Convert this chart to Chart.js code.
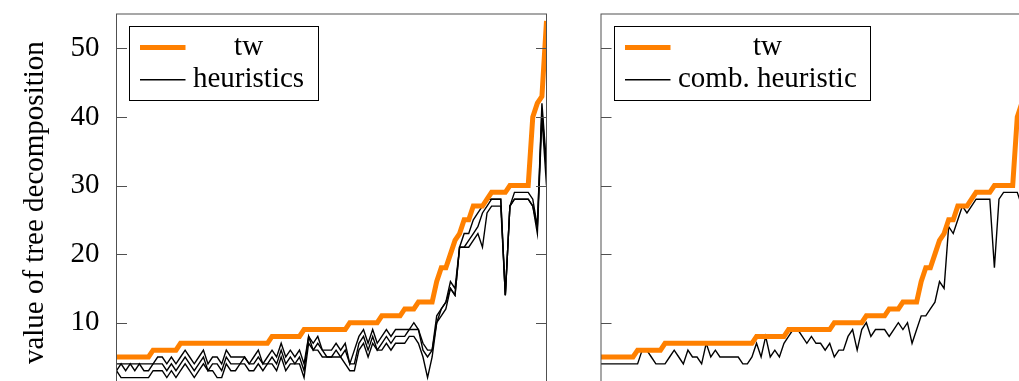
<!DOCTYPE html>
<html>
<head>
<meta charset="utf-8">
<script src="https://cdn.jsdelivr.net/npm/chart.js@4.4.1/dist/chart.umd.min.js"></script>
<style>
  html, body { margin: 0; padding: 0; width: 1019px; height: 381px; overflow: hidden; background: #fff; }
  canvas { position: absolute; top: 0; }
  #twHeur { left: 0; }
  #twComb { left: 590px; }
</style>
</head>
<body>
<canvas id="twHeur" width="560" height="400"></canvas>
<canvas id="twComb" width="460" height="400"></canvas>
<script>
// instances, sorted by treewidth
const instances = Array.from({ length: 95 }, (_, i) => i + 1);

const yTickValues = [10, 20, 30, 40, 50];

const tw = [
  5, 5, 5, 5, 5, 5, 5, 5,
  6, 6, 6, 6, 6, 6,
  7, 7, 7, 7, 7, 7, 7, 7, 7, 7, 7, 7, 7, 7, 7, 7, 7, 7, 7, 7,
  8, 8, 8, 8, 8, 8, 8,
  9, 9, 9, 9, 9, 9, 9, 9, 9, 9,
  10, 10, 10, 10, 10, 10, 10,
  11, 11, 11, 11, 11,
  12, 12, 12,
  13, 13, 13, 13,
  16, 18, 18, 20, 22, 23, 25, 25, 27, 27, 27, 28, 29, 29, 29, 29, 30, 30, 30, 30, 30, 40, 42, 43, 54
];

const heuristicA = [
  4, 4, 4, 4, 4, 4, 4, 4,
  4, 5, 5, 4, 5, 4, 5, 6, 5, 4, 5, 6, 4,
  5, 5, 4, 6, 5, 5, 5, 5, 4, 5,
  6, 4, 5, 6, 5, 7, 5, 6, 5, 6, 4,
  8, 7, 8, 6, 6, 6, 7, 6, 7, 4, 6,
  8, 9, 7, 9, 7, 8, 9, 8, 9,
  9, 9, 9, 10, 9, 7, 6, 6,
  11, 12, 13, 16, 15, 21, 23, 23, 25, 26,
  27, 28, 28, 28, 28, 14, 27, 29, 29, 29, 29, 28, 24, 42, 33
];

const heuristicB = [
  3, 4, 3, 4, 3, 4, 3, 3,
  4, 4, 4, 3, 4, 3, 4, 5, 4, 3, 4, 5, 3,
  4, 4, 3, 5, 4, 4, 4, 5, 4, 4,
  5, 4, 4, 5, 4, 6, 4, 5, 4, 5, 3,
  8, 6, 7, 6, 5, 5, 6, 5, 6, 4, 4,
  7, 8, 6, 8, 6, 7, 8, 7, 8,
  8, 8, 9, 9, 9, 6, 5, 6,
  10, 12, 13, 15, 14, 21, 21, 22, 23, 24,
  26, 27, 28, 28, 28, 14, 27, 28, 28, 28, 28, 27, 24, 41, 32
];

const heuristicC = [
  3, 2, 2, 2, 2, 2, 2, 2,
  3, 3, 3, 2, 3, 2, 3, 4, 3, 2, 3, 4, 3,
  3, 2, 2, 4, 3, 3, 4, 4, 3, 3,
  4, 3, 4, 4, 3, 5, 3, 4, 4, 4, 2,
  7, 6, 6, 5, 5, 5, 5, 5, 4, 3, 3,
  6, 7, 5, 7, 6, 6, 7, 6, 7,
  7, 7, 8, 8, 7, 5, 2, 5,
  10, 11, 12, 15, 14, 21, 21, 21, 22, 23,
  21, 26, 27, 27, 27, 14, 27, 28, 28, 28, 28, 27, 23, 40, 30
];

const combHeuristic = [
  4, 4, 4, 4, 4, 4, 4, 4, 4,
  6, 6, 5, 4, 4, 4, 5, 6, 5, 4, 6, 5,
  5, 4, 7, 5, 6, 5, 5, 5, 5, 5,
  4, 4, 5, 7, 5, 8, 5, 6, 5, 7,
  8, 9, 9, 8, 7, 8, 7, 7, 6, 7,
  5, 6, 6, 8, 9, 6, 9, 10, 8, 9,
  9, 9, 8, 9, 10, 9, 10, 7, 9, 11,
  11, 12, 13, 16, 15, 24, 23, 25, 27, 26,
  27, 28, 28, 28, 28, 18, 28, 29, 29, 29,
  29, 27, 24, 42, 33
];

const ORANGE = '#ff8000';
const SERIF = "'Liberation Serif', 'DejaVu Serif', serif";
const FONT_SIZE = 29;
const TICK_LEN = 10.5;

// axis box with inward ticks on both sides (pgfplots style)
const framePlugin = {
  id: 'frame',
  afterDatasetsDraw(chart) {
    const { ctx, chartArea: a, scales: { y } } = chart;
    ctx.save();
    ctx.strokeStyle = '#505050';
    ctx.lineWidth = 1;
    ctx.strokeRect(a.left, a.top, a.right - a.left, a.bottom - a.top);
    yTickValues.forEach(v => {
      const py = Math.round(y.getPixelForValue(v)) + 0.5;
      ctx.beginPath();
      ctx.moveTo(a.left, py); ctx.lineTo(a.left + TICK_LEN, py);
      ctx.moveTo(a.right, py); ctx.lineTo(a.right - TICK_LEN, py);
      ctx.stroke();
    });
    ctx.restore();
  }
};

// boxed legend in the upper left corner of the plot
const legendPlugin = {
  id: 'boxLegend',
  afterDraw(chart) {
    const { ctx, chartArea: a } = chart;
    const seen = new Set();
    const items = [];
    chart.data.datasets.forEach(ds => {
      if (!seen.has(ds.label)) { seen.add(ds.label); items.push(ds); }
    });
    ctx.save();
    ctx.font = FONT_SIZE + 'px ' + SERIF;
    const textW = Math.max(...items.map(d => ctx.measureText(d.label).width));
    const x0 = Math.round(a.left + 12.5) + 0.5;
    const y0 = Math.round(a.top + 11.5) + 0.5;
    const w = Math.round(63.5 + textW + 14);
    const h = 74;
    ctx.fillStyle = '#fff';
    ctx.fillRect(x0, y0, w, h);
    ctx.strokeStyle = '#000';
    ctx.lineWidth = 1;
    ctx.strokeRect(x0, y0, w, h);
    items.forEach((d, i) => {
      const cy = y0 + 21 + i * 32.3;
      ctx.strokeStyle = d.borderColor;
      ctx.lineWidth = d.borderWidth;
      ctx.beginPath();
      ctx.moveTo(x0 + 10.5, cy);
      ctx.lineTo(x0 + 56, cy);
      ctx.stroke();
      ctx.fillStyle = '#000';
      ctx.textAlign = 'center';
      ctx.textBaseline = 'alphabetic';
      ctx.fillText(d.label, x0 + 63.5 + textW / 2, cy + 7);
    });
    ctx.restore();
  }
};

function lineSet(label, data, color, width) {
  return {
    label, data,
    borderColor: color,
    backgroundColor: color,
    borderWidth: width,
    pointRadius: 0,
    tension: 0,
    borderJoinStyle: 'miter',
    fill: false,
    clip: 0
  };
}

function makeOptions(withLabels, padding) {
  return {
    responsive: false,
    animation: false,
    devicePixelRatio: 1,
    layout: { padding },
    plugins: { legend: { display: false }, tooltip: { enabled: false } },
    scales: {
      x: { display: false, offset: false },
      y: {
        display: withLabels,
        min: 0, max: 55,
        afterBuildTicks(scale) { scale.ticks = yTickValues.map(v => ({ value: v })); },
        afterFit(scale) {
          scale.width = withLabels ? 116.5 : 0;
          scale.paddingTop = 0;
          scale.paddingBottom = 0;
        },
        grid: { display: false, drawTicks: false },
        border: { display: false },
        ticks: {
          padding: 17,
          color: '#000',
          font: { family: SERIF, size: FONT_SIZE }
        },
        title: {
          display: withLabels,
          text: 'value of tree decomposition',
          color: '#000',
          padding: { top: 18, bottom: 0 },
          font: { family: SERIF, size: FONT_SIZE }
        }
      }
    }
  };
}

new Chart(document.getElementById('twHeur'), {
  type: 'line',
  data: {
    labels: instances,
    datasets: [
      lineSet('tw', tw, ORANGE, 5),
      lineSet('heuristics', heuristicA, '#000', 1.4),
      lineSet('heuristics', heuristicB, '#000', 1.4),
      lineSet('heuristics', heuristicC, '#000', 1.4)
    ]
  },
  options: makeOptions(true, { left: 0, top: 14, right: 13.5, bottom: 8.7 }),
  plugins: [framePlugin, legendPlugin]
});

new Chart(document.getElementById('twComb'), {
  type: 'line',
  data: {
    labels: instances,
    datasets: [
      lineSet('tw', tw, ORANGE, 5),
      lineSet('comb. heuristic', combHeuristic, '#000', 1.4)
    ]
  },
  options: makeOptions(false, { left: 11, top: 14, right: 19, bottom: 8.7 }),
  plugins: [framePlugin, legendPlugin]
});
</script>
</body>
</html>
